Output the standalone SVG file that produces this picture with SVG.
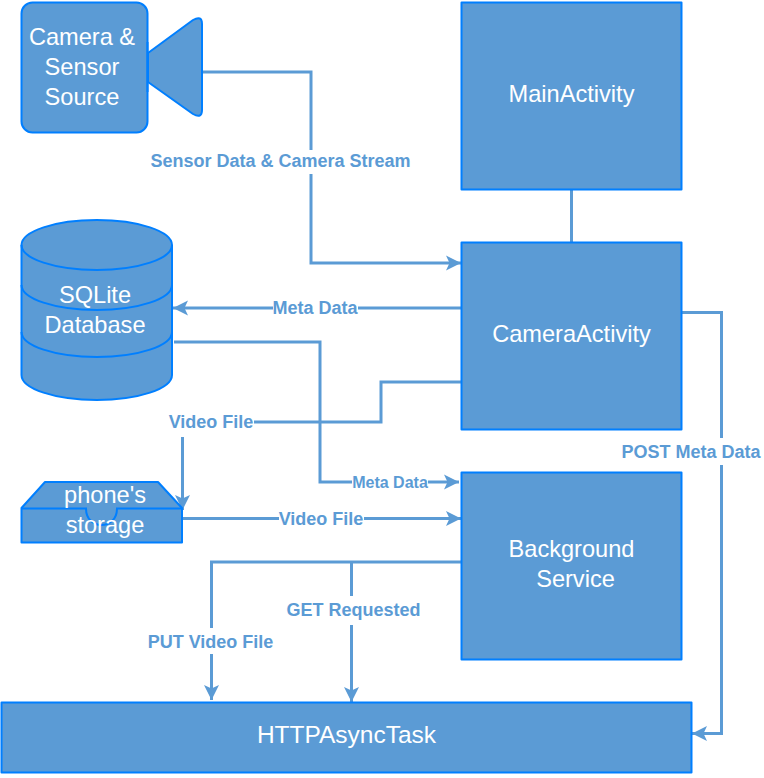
<svg xmlns="http://www.w3.org/2000/svg" width="764" height="778" viewBox="0 0 764 778">
<defs>
<marker id="arr" markerUnits="userSpaceOnUse" markerWidth="16" markerHeight="18" viewBox="0 0 16 18" refX="15" refY="9" orient="auto"><path d="M0 1.500 L15 9 L0 16.500 L3.500 9 Z" fill="#5b9bd5"/></marker>
</defs>
<style>
.n{fill:#5b9bd5;stroke:#007fff;stroke-width:2;stroke-linejoin:round}
.d{fill:none;stroke:#007fff;stroke-width:2}
.t{font-family:"Liberation Sans",Arial,sans-serif;font-size:23.600px;fill:#fff;text-anchor:middle}
.w{font-size:24.500px}
.c{fill:none;stroke:#5b9bd5;stroke-width:3}
.a{marker-end:url(#arr)}
.b{fill:#fff}
.l{font-family:"Liberation Sans",Arial,sans-serif;font-size:18px;font-weight:bold;fill:#5b9bd5;text-anchor:middle}
.s{font-size:16px}
</style>
<rect width="764" height="778" fill="#fff"/>
<g id="connectors">
<path class="c a" d="M202 72H311V263H461"/>
<path class="c" d="M571.500 189V242"/>
<path class="c a" d="M461 308H173"/>
<path class="c a" d="M174 342H320V482H459"/>
<path class="c a" d="M461 382H381V422H182.500V510"/>
<path class="c a" d="M183 518.500H461"/>
<path class="c a" d="M461 562H211.500V700"/>
<path class="c a" d="M351.500 562V702"/>
<path class="c a" d="M682 312.500H721.500V733.500H692"/>
<rect class="b" x="150" y="150" width="261" height="24"/><text class="l" x="280.500" y="167">Sensor Data &amp; Camera Stream</text>
<rect class="b" x="273" y="299" width="85" height="18"/><text class="l" x="315" y="314">Meta Data</text>
<rect class="b" x="352" y="474" width="76" height="16"/><text class="l s" x="390" y="488">Meta Data</text>
<rect class="b" x="169" y="412" width="85" height="25"/><text class="l" x="211" y="428">Video File</text>
<rect class="b" x="279" y="510" width="85" height="17"/><text class="l" x="321" y="524.500">Video File</text>
<rect class="b" x="147" y="628" width="127" height="26"/><text class="l" x="210.500" y="647.500">PUT Video File</text>
<rect class="b" x="286" y="596" width="135" height="29"/><text class="l" x="353.500" y="616">GET Requested</text>
<rect class="b" x="621" y="438" width="140" height="27"/><text class="l" x="691" y="457.500">POST Meta Data</text>
</g>
<g id="camera-source">
<rect class="n" x="21.500" y="2.500" width="126" height="130" rx="11"/>
<path class="n" d="M148 53L193 20Q202 15 202 24V110Q202 119 193 114L148 82Z"/>
<path class="d" d="M147.500 42V92"/>
<text class="t" x="82" y="45">Camera &amp;</text><text class="t" x="82" y="75">Sensor</text><text class="t" x="82" y="105">Source</text>
</g>
<g id="sqlite-database">
<path class="n" d="M21.500 245A75.250 25 0 0 1 172 245V375A75.250 25 0 0 1 21.500 375Z"/>
<path class="d" d="M21.500 245A75.250 25 0 0 0 172 245M21.500 285A75.250 25 0 0 0 172 285M21.500 332A75.250 25 0 0 0 172 332"/>
<text class="t" x="95" y="303">SQLite</text><text class="t" x="95" y="333">Database</text>
</g>
<g id="phones-storage">
<path class="n" d="M21.500 508L45 482H158L182 508V542.500H21.500Z"/>
<path class="d" d="M21.500 508.500H86C86 520 94 525 101.500 525C109 525 117 520 117 508.500H182"/>
<text class="t" x="105" y="503">phone's</text><text class="t" x="105" y="533">storage</text>
</g>
<g id="main-activity"><rect class="n" x="461.500" y="2.500" width="220" height="187"/><text class="t" x="571.500" y="102">MainActivity</text></g>
<g id="camera-activity"><rect class="n" x="461.500" y="242.500" width="220" height="187"/><text class="t" x="571.500" y="342">CameraActivity</text></g>
<g id="background-service"><rect class="n" x="461.500" y="472.500" width="220" height="187"/><text class="t" x="571.500" y="557">Background</text><text class="t" x="575.500" y="587">Service</text></g>
<g id="http-async-task"><rect class="n" x="1.500" y="702.500" width="690" height="70"/><text class="t w" x="346.500" y="743">HTTPAsyncTask</text></g>
</svg>
